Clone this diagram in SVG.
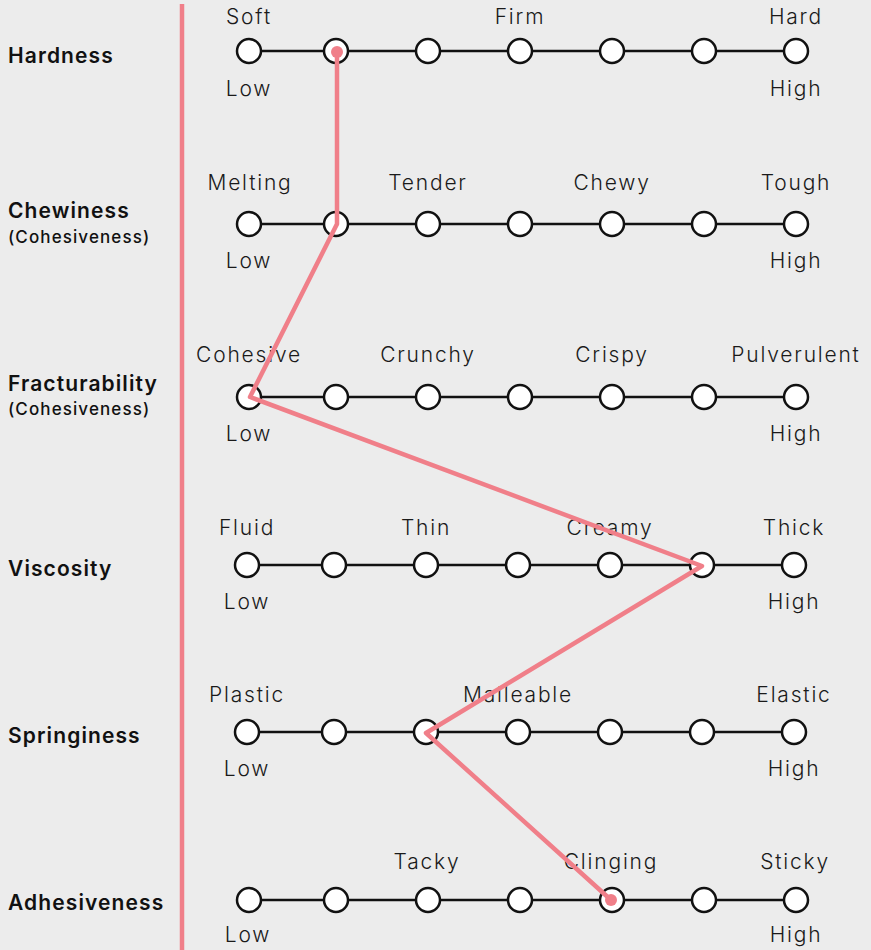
<svg xmlns="http://www.w3.org/2000/svg" width="871" height="950" viewBox="0 0 871 950">
  <style>
    .bg { fill: #ececec; }
    .axis { stroke: #f07f89; stroke-width: 4.5; }
    .track { stroke: #111; stroke-width: 2.5; }
    .pt { fill: #fff; stroke: #111; stroke-width: 2.5; }
    .name { font-family: Inter, "Noto Sans", sans-serif; font-weight: 600; font-size: 21px; fill: #111; letter-spacing: 1.1px; }
    .sub { font-family: Inter, "Noto Sans", sans-serif; font-weight: 500; font-size: 17px; fill: #111; letter-spacing: 1.1px; }
    .tick { font-family: Inter, "Noto Sans", sans-serif; font-weight: 300; font-size: 21px; fill: #1a1a1a; text-anchor: middle; letter-spacing: 1.8px; }
    .profile { fill: none; stroke: #f07f89; stroke-width: 4.5; stroke-linejoin: round; stroke-linecap: round; }
    .dot { fill: #f07f89; }
  </style>
  <defs>
    <!-- seven-step scale: track line with open circles -->
    <g id="scale">
      <line class="track" x1="0" y1="0" x2="547" y2="0"/>
      <circle class="pt" cx="0" cy="0" r="12"/>
      <circle class="pt" cx="87" cy="0" r="12"/>
      <circle class="pt" cx="179" cy="0" r="12"/>
      <circle class="pt" cx="271" cy="0" r="12"/>
      <circle class="pt" cx="363" cy="0" r="12"/>
      <circle class="pt" cx="455" cy="0" r="12"/>
      <circle class="pt" cx="547" cy="0" r="12"/>
    </g>
  </defs>
  <rect class="bg" x="0" y="0" width="871" height="950"/>

  <line class="axis" x1="182" y1="4" x2="182" y2="950"/>

  <g id="hardness">
    <text class="name" x="8" y="63">Hardness</text>
    <use href="#scale" x="249" y="51"/>
    <text class="tick" x="249" y="24">Soft</text>
    <text class="tick" x="520" y="24">Firm</text>
    <text class="tick" x="796" y="24">Hard</text>
    <text class="tick" x="249" y="96">Low</text>
    <text class="tick" x="796" y="96">High</text>
  </g>

  <g id="chewiness">
    <text class="name" x="8" y="218">Chewiness</text>
    <text class="sub" x="8" y="243">(Cohesiveness)</text>
    <use href="#scale" x="249" y="224"/>
    <text class="tick" x="250" y="190">Melting</text>
    <text class="tick" x="428" y="190">Tender</text>
    <text class="tick" x="612" y="190">Chewy</text>
    <text class="tick" x="796" y="190">Tough</text>
    <text class="tick" x="249" y="268">Low</text>
    <text class="tick" x="796" y="268">High</text>
  </g>

  <g id="fracturability">
    <text class="name" x="8" y="391">Fracturability</text>
    <text class="sub" x="8" y="415">(Cohesiveness)</text>
    <use href="#scale" x="249" y="397"/>
    <text class="tick" x="249" y="362">Cohesive</text>
    <text class="tick" x="428" y="362">Crunchy</text>
    <text class="tick" x="612" y="362">Crispy</text>
    <text class="tick" x="796" y="362">Pulverulent</text>
    <text class="tick" x="249" y="441">Low</text>
    <text class="tick" x="796" y="441">High</text>
  </g>

  <g id="viscosity">
    <text class="name" x="8" y="576">Viscosity</text>
    <use href="#scale" x="247" y="565"/>
    <text class="tick" x="247" y="535">Fluid</text>
    <text class="tick" x="426" y="535">Thin</text>
    <text class="tick" x="610" y="535">Creamy</text>
    <text class="tick" x="794" y="535">Thick</text>
    <text class="tick" x="247" y="609">Low</text>
    <text class="tick" x="794" y="609">High</text>
  </g>

  <g id="springiness">
    <text class="name" x="8" y="743">Springiness</text>
    <use href="#scale" x="247" y="732"/>
    <text class="tick" x="247" y="702">Plastic</text>
    <text class="tick" x="518" y="702">Malleable</text>
    <text class="tick" x="794" y="702">Elastic</text>
    <text class="tick" x="247" y="776">Low</text>
    <text class="tick" x="794" y="776">High</text>
  </g>

  <g id="adhesiveness">
    <text class="name" x="8" y="910">Adhesiveness</text>
    <use href="#scale" x="249" y="900"/>
    <text class="tick" x="427" y="869">Tacky</text>
    <text class="tick" x="611" y="869">Clinging</text>
    <text class="tick" x="795" y="869">Sticky</text>
    <text class="tick" x="248" y="942">Low</text>
    <text class="tick" x="796" y="942">High</text>
  </g>

  <!-- profile line linking the chosen point on each scale -->
  <g id="connectors">
    <polyline class="profile" points="337,52 337,224 250,397 702,566 426,733 611,900"/>
    <circle class="dot" cx="337" cy="52" r="6"/>
    <circle class="dot" cx="611" cy="900" r="6"/>
  </g>
</svg>
